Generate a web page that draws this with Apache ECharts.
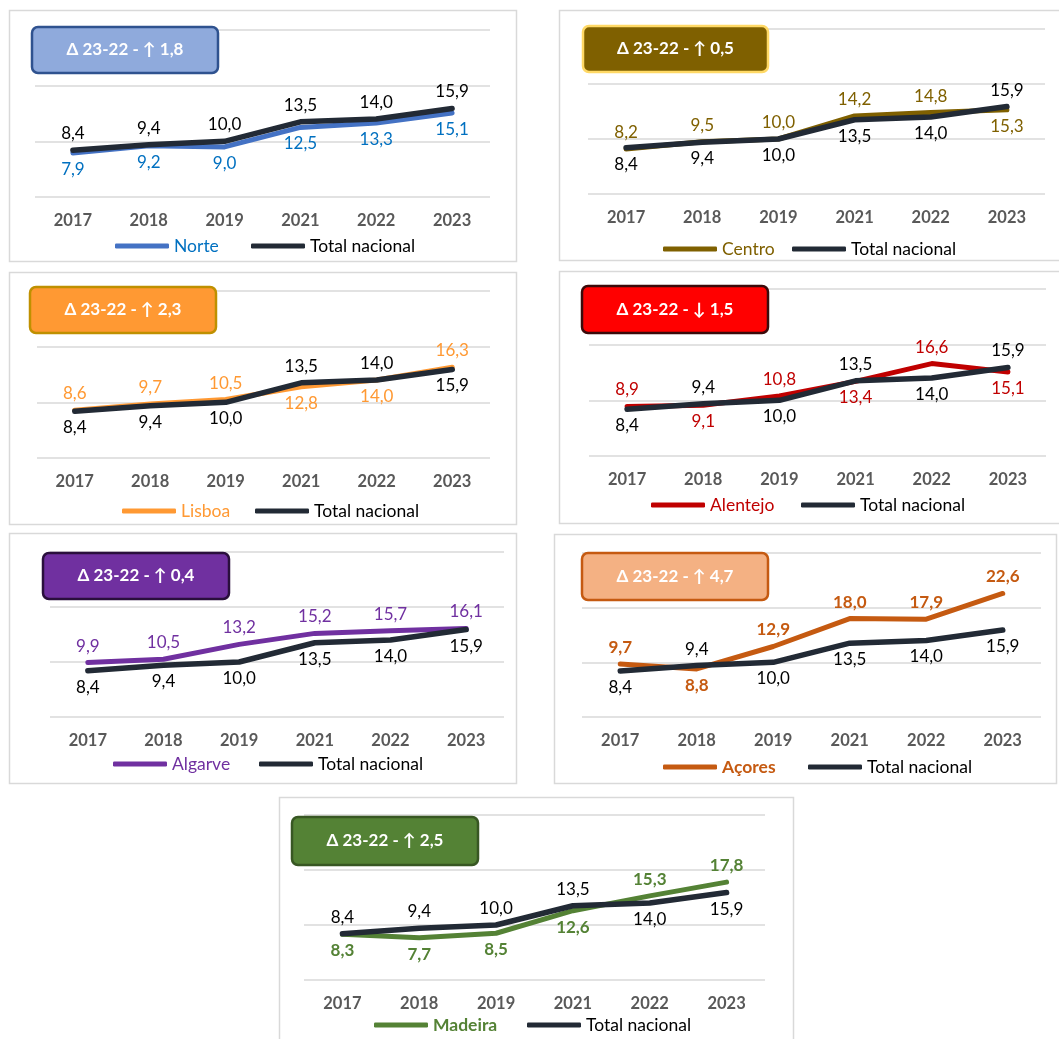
<!DOCTYPE html>
<html>
<head>
<meta charset="utf-8">
<script src="https://cdn.jsdelivr.net/npm/echarts@6/dist/echarts.min.js"></script>
<style>
html,body{margin:0;padding:0;background:#fff;}
#chart{width:1059px;height:1039px;}
</style>
</head>
<body>
<div id="chart"></div>
<script>
// ---- data ----
const categories = ['2017', '2018', '2019', '2021', '2022', '2023'];
const totalNacional = [8.4, 9.4, 10.0, 13.5, 14.0, 15.9];
const norte = [7.9, 9.2, 9.0, 12.5, 13.3, 15.1];
const centro = [8.2, 9.5, 10.0, 14.2, 14.8, 15.3];
const lisboa = [8.6, 9.7, 10.5, 12.8, 14.0, 16.3];
const alentejo = [8.9, 9.1, 10.8, 13.4, 16.6, 15.1];
const algarve = [9.9, 10.5, 13.2, 15.2, 15.7, 16.1];
const acores = [9.7, 8.8, 12.9, 18.0, 17.9, 22.6];
const madeira = [8.3, 7.7, 8.5, 12.6, 15.3, 17.8];
const regionNames = ['Norte', 'Centro', 'Lisboa', 'Alentejo', 'Algarve', 'Açores', 'Madeira'];
const deltaTexts = ['Δ 23-22 - ↑ 1,8', 'Δ 23-22 - ↑ 0,5', 'Δ 23-22 - ↑ 2,3', 'Δ 23-22 - ↓ 1,5',
                    'Δ 23-22 - ↑ 0,4', 'Δ 23-22 - ↑ 4,7', 'Δ 23-22 - ↑ 2,5'];
const yTicks = [0, 10, 20, 30];

// ---- label placement (style) ----
const T = 'top', B = 'bottom';
const regionPos = [
  [B, B, B, B, B, B],
  [T, T, T, T, T, B],
  [T, T, T, B, B, T],
  [T, B, T, B, T, B],
  [T, T, T, T, T, T],
  [T, B, T, T, T, T],
  [B, B, B, B, T, T]
];
const totalPos = [
  [T, T, T, T, T, T],
  [B, B, B, B, B, T],
  [B, B, B, T, T, B],
  [B, T, B, T, B, T],
  [B, B, B, B, B, B],
  [B, T, B, B, B, B],
  [T, T, T, T, B, B]
];

// ---- layout / style per panel ----
const panels = [
  { border:[9,10,507,251], grid:[35,30,455,167], head:[32,27,186,46], fill:'#8FAADC', stroke:'#2F528F',
    line:'#4472C4', lab:'#0070C0', bold:false, leg:[115,251,237] },
  { border:[559,10,520,250], grid:[588,29,457,165], head:[583,26,185,46], fill:'#7F6000', stroke:'#FFD966',
    line:'#7F6000', lab:'#7F6000', bold:false, leg:[663,792,240] },
  { border:[9,272,507,252], grid:[37,291,453,167], head:[30,287,186,46], fill:'#FF9933', stroke:'#BF9000',
    line:'#FF9933', lab:'#FF9933', bold:false, leg:[122,255,502] },
  { border:[559,271,520,252], grid:[589,289,457,167], head:[582,286,186,47], fill:'#FF0000', stroke:'#3B0A0A',
    line:'#C00000', lab:'#C00000', bold:false, leg:[651,801,496] },
  { border:[9,533,507,250], grid:[50,552,454,165], head:[43,553,186,46], fill:'#7030A0', stroke:'#2A0F3D',
    line:'#7030A0', lab:'#7030A0', bold:false, leg:[113,259,755] },
  { border:[554,534,502,249], grid:[582,553,459,164], head:[582,553,186,47], fill:'#F4B183', stroke:'#C55A11',
    line:'#C55A11', lab:'#C55A11', bold:true, leg:[663,808,758] },
  { border:[279,797,514,260], grid:[304,815,461,165], head:[292,817,186,48], fill:'#548235', stroke:'#385723',
    line:'#548235', lab:'#548235', bold:true, leg:[374,527,1016] }
];
const regionData = [norte, centro, lisboa, alentejo, algarve, acores, madeira];

const FONT = 'Lato, "Open Sans", "Liberation Sans", sans-serif';
const fmt = v => v.toFixed(1).replace('.', ',');

const grids = [], xAxes = [], yAxes = [], series = [], legends = [], graphics = [];

panels.forEach((p, i) => {
  graphics.push({
    type: 'rect', shape: { x: p.border[0] + 0.5, y: p.border[1] + 0.5, width: p.border[2], height: p.border[3] },
    style: { fill: 'none', stroke: '#D9D9D9', lineWidth: 1.5 }, z: 0, silent: true
  });
  grids.push({ left: p.grid[0], top: p.grid[1], width: p.grid[2], height: p.grid[3], containLabel: false });
  xAxes.push({
    type: 'category', gridIndex: i, data: categories, boundaryGap: true,
    axisLine: { show: false }, axisTick: { show: false },
    axisLabel: { color: '#595959', fontWeight: 'bold', fontSize: 16.5, fontFamily: FONT, margin: 15 }
  });
  yAxes.push({
    type: 'value', gridIndex: i, min: yTicks[0], max: yTicks[yTicks.length - 1], interval: yTicks[1] - yTicks[0],
    axisLabel: { show: false }, axisLine: { show: false }, axisTick: { show: false },
    splitLine: { lineStyle: { color: '#D9D9D9', width: 1.5 } }
  });
  const reg = regionData[i];
  series.push({
    name: regionNames[i], type: 'line', xAxisIndex: i, yAxisIndex: i,
    color: p.line, symbol: 'circle', symbolSize: 2, showSymbol: true, z: 3,
    itemStyle: { color: p.line },
    lineStyle: { width: 5, color: p.line, cap: 'round', join: 'round' },
    label: { show: true, distance: 7, color: p.lab, fontSize: 17, fontFamily: FONT,
             fontWeight: p.bold ? 'bold' : 'normal', formatter: o => fmt(o.value) },
    data: reg.map((v, k) => ({ value: v, label: { position: regionPos[i][k] } }))
  });
  series.push({
    name: 'Total nacional', type: 'line', xAxisIndex: i, yAxisIndex: i,
    color: '#222A35', symbol: 'circle', symbolSize: 2, showSymbol: true, z: 4,
    itemStyle: { color: '#222A35' },
    lineStyle: { width: 5.5, color: '#222A35', cap: 'round', join: 'round' },
    label: { show: true, distance: 7, color: '#000000', fontSize: 17, fontFamily: FONT,
             formatter: o => fmt(o.value) },
    data: totalNacional.map((v, k) => ({ value: v, label: { position: totalPos[i][k] } }))
  });
  legends.push({
    left: p.leg[0], top: p.leg[2], padding: 0, itemWidth: 54, itemHeight: 5, icon: 'roundRect',
    selectedMode: false,
    data: [{ name: regionNames[i], textStyle: { color: p.lab, fontWeight: p.bold ? 'bold' : 'normal' } }],
    textStyle: { fontSize: 17.5, fontFamily: FONT }
  });
  legends.push({
    left: p.leg[1], top: p.leg[2], padding: 0, itemWidth: 54, itemHeight: 5, icon: 'roundRect',
    selectedMode: false,
    data: [{ name: 'Total nacional', textStyle: { color: '#000000' } }],
    textStyle: { fontSize: 17.5, fontFamily: FONT }
  });
  graphics.push({
    type: 'rect', shape: { x: p.head[0], y: p.head[1], width: p.head[2], height: p.head[3], r: 6 },
    style: { fill: p.fill, stroke: p.stroke, lineWidth: 2.5 }, z: 10, silent: true
  });
  graphics.push({
    type: 'text', x: p.head[0] + p.head[2] / 2, y: p.head[1] + p.head[3] / 2, z: 11, silent: true,
    style: { text: deltaTexts[i], fill: '#FFFFFF', font: 'bold 17px ' + FONT, align: 'center', verticalAlign: 'middle' }
  });
});

const chart = echarts.init(document.getElementById('chart'), null, { renderer: 'canvas' });
chart.setOption({
  backgroundColor: '#FFFFFF',
  animation: false,
  grid: grids, xAxis: xAxes, yAxis: yAxes, series: series, legend: legends,
  graphic: { elements: graphics }
});
</script>
</body>
</html>
